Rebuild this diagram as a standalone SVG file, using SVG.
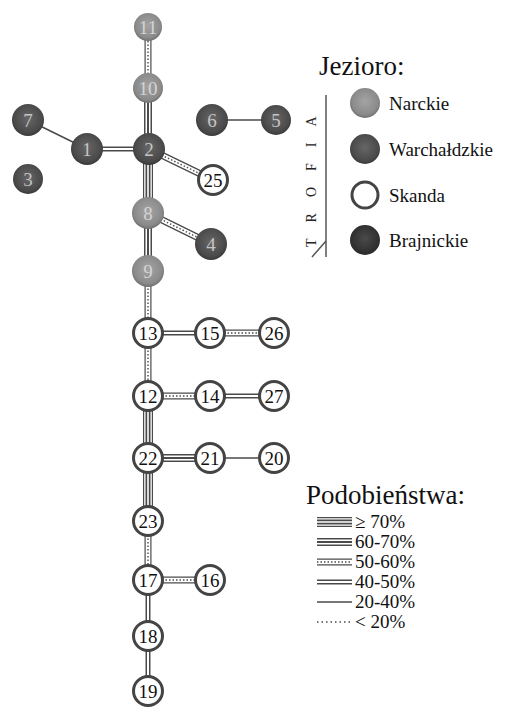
<svg xmlns="http://www.w3.org/2000/svg" width="510" height="708" viewBox="0 0 510 708">
<defs>
<radialGradient id="gN" cx="50%" cy="45%" r="55%"><stop offset="0" stop-color="#a4a4a4"/><stop offset="0.8" stop-color="#8a8a8a"/><stop offset="1" stop-color="#6e6e6e"/></radialGradient>
<radialGradient id="gD" cx="50%" cy="45%" r="55%"><stop offset="0" stop-color="#666"/><stop offset="0.8" stop-color="#4a4a4a"/><stop offset="1" stop-color="#383838"/></radialGradient>
<radialGradient id="gB" cx="50%" cy="45%" r="55%"><stop offset="0" stop-color="#4a4a4a"/><stop offset="1" stop-color="#2a2a2a"/></radialGradient>
</defs>
<style>
text{font-family:"Liberation Serif","Times New Roman",serif}
.c path{fill:none}
.k{stroke:#4a4a4a}
.w{stroke:#fff}
.s70 .l1{stroke-width:10}.s70 .l2{stroke-width:7.6}.s70 .l3{stroke-width:5}.s70 .l4{stroke-width:1.6}
.s60 .l1{stroke-width:8}.s60 .l2{stroke-width:5}.s60 .l3{stroke-width:2}
.s50 .l1{stroke-width:7}.s50 .l2{stroke-width:4.6}.s50 .l3{stroke-width:1.4;stroke-dasharray:1.5 2}
.s40 .l1{stroke-width:5}.s40 .l2{stroke-width:2}
.s20 .l1{stroke-width:1.5}
.s0 .l1{stroke-width:1.5;stroke-dasharray:1.5 3}
.node text{font-size:19px;text-anchor:middle}
.narckie circle{fill:url(#gN)}
.narckie text{fill:#d4d4d4}
.warch circle{fill:url(#gD)}
.warch text{fill:#c4c4c4}
.skanda circle{fill:#fff;stroke:#444;stroke-width:3}
.skanda text{fill:#111}
.braj circle{fill:url(#gB)}
.lg{font-size:19px;fill:#111}
.title{font-size:27px;fill:#111}
</style>
<rect width="510" height="708" fill="#fff"/>

<g id="connectors" class="c">
<g class="s50"><path class="k l1" d="M148,27V88"/><path class="w l2" d="M148,27V88"/><path class="k l3" d="M148,27V88"/></g>
<g class="s60"><path class="k l1" d="M148,88V149"/><path class="w l2" d="M148,88V149"/><path class="k l3" d="M148,88V149"/></g>
<g class="s20"><path class="k l1" d="M28,120L87,149"/></g>
<g class="s40"><path class="k l1" d="M87,149H149"/><path class="w l2" d="M87,149H149"/></g>
<g class="s20"><path class="k l1" d="M212,120H276"/></g>
<g class="s50"><path class="k l1" d="M149,149L213,180"/><path class="w l2" d="M149,149L213,180"/><path class="k l3" d="M149,149L213,180"/></g>
<g class="s70"><path class="k l1" d="M148,149V213"/><path class="w l2" d="M148,149V213"/><path class="k l3" d="M148,149V213"/><path class="w l4" d="M148,149V213"/></g>
<g class="s50"><path class="k l1" d="M148,213L211,244"/><path class="w l2" d="M148,213L211,244"/><path class="k l3" d="M148,213L211,244"/></g>
<g class="s60"><path class="k l1" d="M148,213V271"/><path class="w l2" d="M148,213V271"/><path class="k l3" d="M148,213V271"/></g>
<g class="s50"><path class="k l1" d="M148,271V333"/><path class="w l2" d="M148,271V333"/><path class="k l3" d="M148,271V333"/></g>
<g class="s40"><path class="k l1" d="M148,333H210"/><path class="w l2" d="M148,333H210"/></g>
<g class="s50"><path class="k l1" d="M210,333H274"/><path class="w l2" d="M210,333H274"/><path class="k l3" d="M210,333H274"/></g>
<g class="s50"><path class="k l1" d="M148,333V396"/><path class="w l2" d="M148,333V396"/><path class="k l3" d="M148,333V396"/></g>
<g class="s50"><path class="k l1" d="M148,396H210"/><path class="w l2" d="M148,396H210"/><path class="k l3" d="M148,396H210"/></g>
<g class="s40"><path class="k l1" d="M210,396H274"/><path class="w l2" d="M210,396H274"/></g>
<g class="s70"><path class="k l1" d="M148,396V458"/><path class="w l2" d="M148,396V458"/><path class="k l3" d="M148,396V458"/><path class="w l4" d="M148,396V458"/></g>
<g class="s60"><path class="k l1" d="M148,458H210"/><path class="w l2" d="M148,458H210"/><path class="k l3" d="M148,458H210"/></g>
<g class="s20"><path class="k l1" d="M210,458H274"/></g>
<g class="s70"><path class="k l1" d="M148,458V521"/><path class="w l2" d="M148,458V521"/><path class="k l3" d="M148,458V521"/><path class="w l4" d="M148,458V521"/></g>
<g class="s50"><path class="k l1" d="M148,521V580"/><path class="w l2" d="M148,521V580"/><path class="k l3" d="M148,521V580"/></g>
<g class="s50"><path class="k l1" d="M148,580H210"/><path class="w l2" d="M148,580H210"/><path class="k l3" d="M148,580H210"/></g>
<g class="s40"><path class="k l1" d="M148,580V636"/><path class="w l2" d="M148,580V636"/></g>
<g class="s40"><path class="k l1" d="M148,636V691"/><path class="w l2" d="M148,636V691"/></g>
</g>

<g id="n11" class="node narckie"><circle cx="148" cy="27" r="14"/><text x="148" y="33.5">11</text></g>
<g id="n10" class="node narckie"><circle cx="148" cy="88" r="15"/><text x="148" y="94.5">10</text></g>
<g id="n7" class="node warch"><circle cx="28" cy="120" r="16"/><text x="28" y="126.5">7</text></g>
<g id="n1" class="node warch"><circle cx="87" cy="149" r="16"/><text x="87" y="155.5">1</text></g>
<g id="n2" class="node warch"><circle cx="149" cy="149" r="16"/><text x="149" y="155.5">2</text></g>
<g id="n3" class="node warch"><circle cx="28" cy="179" r="15"/><text x="28" y="185.5">3</text></g>
<g id="n6" class="node warch"><circle cx="212" cy="120" r="16"/><text x="212" y="126.5">6</text></g>
<g id="n5" class="node warch"><circle cx="276" cy="120" r="15"/><text x="276" y="126.5">5</text></g>
<g id="n25" class="node skanda"><circle cx="213" cy="180" r="14.5"/><text x="213" y="186.5">25</text></g>
<g id="n8" class="node narckie"><circle cx="148" cy="213" r="16"/><text x="148" y="219.5">8</text></g>
<g id="n4" class="node warch"><circle cx="211" cy="244" r="16"/><text x="211" y="250.5">4</text></g>
<g id="n9" class="node narckie"><circle cx="148" cy="271" r="16"/><text x="148" y="277.5">9</text></g>
<g id="n13" class="node skanda"><circle cx="148" cy="333" r="14.5"/><text x="148" y="339.5">13</text></g>
<g id="n15" class="node skanda"><circle cx="210" cy="333" r="14.5"/><text x="210" y="339.5">15</text></g>
<g id="n26" class="node skanda"><circle cx="274" cy="333" r="14.5"/><text x="274" y="339.5">26</text></g>
<g id="n12" class="node skanda"><circle cx="148" cy="396" r="14.5"/><text x="148" y="402.5">12</text></g>
<g id="n14" class="node skanda"><circle cx="210" cy="396" r="14.5"/><text x="210" y="402.5">14</text></g>
<g id="n27" class="node skanda"><circle cx="274" cy="396" r="14.5"/><text x="274" y="402.5">27</text></g>
<g id="n22" class="node skanda"><circle cx="148" cy="458" r="14.5"/><text x="148" y="464.5">22</text></g>
<g id="n21" class="node skanda"><circle cx="210" cy="458" r="14.5"/><text x="210" y="464.5">21</text></g>
<g id="n20" class="node skanda"><circle cx="274" cy="458" r="14.5"/><text x="274" y="464.5">20</text></g>
<g id="n23" class="node skanda"><circle cx="148" cy="521" r="14.5"/><text x="148" y="527.5">23</text></g>
<g id="n17" class="node skanda"><circle cx="148" cy="580" r="14.5"/><text x="148" y="586.5">17</text></g>
<g id="n16" class="node skanda"><circle cx="210" cy="580" r="14.5"/><text x="210" y="586.5">16</text></g>
<g id="n18" class="node skanda"><circle cx="148" cy="636" r="14.5"/><text x="148" y="642.5">18</text></g>
<g id="n19" class="node skanda"><circle cx="148" cy="691" r="14.5"/><text x="148" y="697.5">19</text></g>

<g id="legend-lakes">
<text class="title" x="319" y="75">Jezioro:</text>
<path d="M326,95V257M312,257L326,241" fill="none" stroke="#555" stroke-width="1.5"/>
<text x="316" y="247" transform="rotate(-90 316 247)" font-size="14" letter-spacing="16" fill="#222">TROFIA</text>
<g class="narckie"><circle cx="365" cy="103" r="15"/></g>
<text class="lg" x="389" y="110">Narckie</text>
<g class="warch"><circle cx="365" cy="149" r="15"/></g>
<text class="lg" x="389" y="156">Warchałdzkie</text>
<g class="skanda"><circle cx="365" cy="195" r="13"/></g>
<text class="lg" x="389" y="202">Skanda</text>
<g class="braj"><circle cx="365" cy="240" r="15"/></g>
<text class="lg" x="389" y="247">Brajnickie</text>
</g>

<g id="legend-sim" class="c">
<text class="title" x="306" y="504">Podobieństwa:</text>
<g class="s70"><path class="k l1" d="M317,522H352"/><path class="w l2" d="M317,522H352"/><path class="k l3" d="M317,522H352"/><path class="w l4" d="M317,522H352"/></g>
<text class="lg" x="355" y="528">≥ 70%</text>
<g class="s60"><path class="k l1" d="M317,542H352"/><path class="w l2" d="M317,542H352"/><path class="k l3" d="M317,542H352"/></g>
<text class="lg" x="355" y="548">60-70%</text>
<g class="s50"><path class="k l1" d="M317,562H352"/><path class="w l2" d="M317,562H352"/><path class="k l3" d="M317,562H352"/></g>
<text class="lg" x="355" y="568">50-60%</text>
<g class="s40"><path class="k l1" d="M317,582H352"/><path class="w l2" d="M317,582H352"/></g>
<text class="lg" x="355" y="588">40-50%</text>
<g class="s20"><path class="k l1" d="M317,602H352"/></g>
<text class="lg" x="355" y="608">20-40%</text>
<g class="s0"><path class="k l1" d="M317,622H352"/></g>
<text class="lg" x="355" y="628">&lt; 20%</text>
</g>
</svg>
